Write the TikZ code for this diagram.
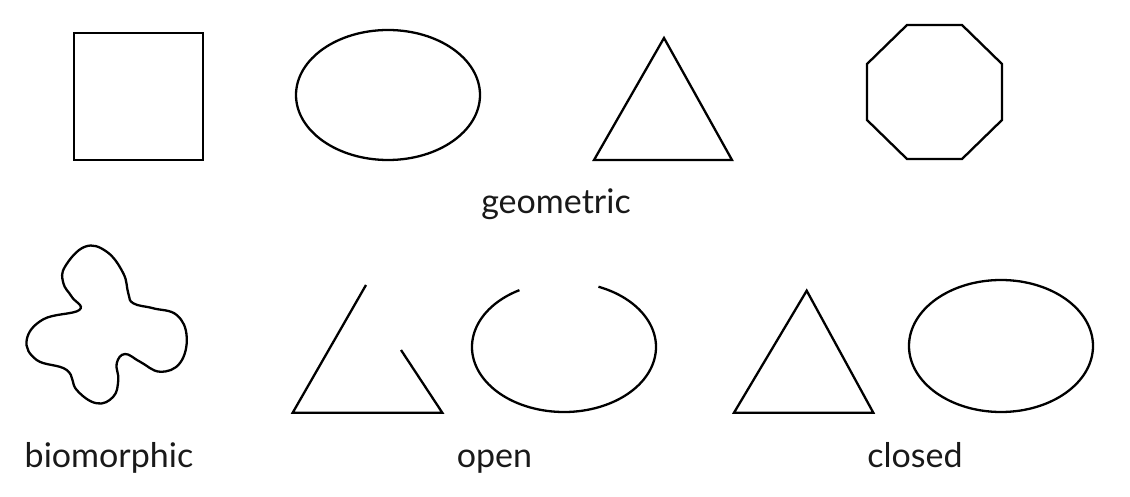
\documentclass[tikz,border=0pt]{standalone}
\usepackage{fontspec}
\setsansfont{Lato}
\usetikzlibrary{positioning}

\begin{document}
\begin{tikzpicture}[
    x=1pt, y=1pt,
    % Outline of every figure
    outline/.style={
        draw, line width=2.3pt, line join=miter,
    },
    % Text under the figures
    caption/.style={
        font=\sffamily\fontsize{34}{40}\selectfont,
        anchor=base, inner sep=0pt, text=black!90,
    },
  ]
  \useasboundingbox (0,0) rectangle (1130,496);

  % --- Geometric row ---
  \draw[outline] (74,336) rectangle (203,463);
  \draw[outline] (388,401) ellipse [x radius=92, y radius=65];
  \draw[outline] (594,336) -- (664,458) -- (732,336) -- cycle;
  \draw[outline] (907,471) -- (962,471) -- (1002,432) -- (1002,376)
                 -- (962,337) -- (907,337) -- (867,376) -- (867,432) -- cycle;

  % --- Biomorphic blob ---
  \draw[outline] plot[smooth cycle, tension=0.7] coordinates {
      (85,249.3) (65,229.3) (63.3,213) (71.7,199.3) (79.3,186)
      (43.3,176.7) (26.7,156) (36.7,136) (66.7,126) (76.7,106)
      (96.7,92.7) (113.3,99.3) (118.3,116) (116.7,132.7) (125,142)
      (140,134.3) (160,124.3) (180,133) (186.7,159.3) (176.7,181)
      (153.3,187.7) (133.3,192.7) (128.3,202.7) (123.3,222.7) (106.7,244.3)
  };

  % --- Open figures ---
  \draw[outline] (366,211) -- (292.7,83.3) -- (442.3,83.3) -- (401,146);
  \draw[outline] (564,149) ++(119:92 and 65)
                 arc [start angle=119, end angle=428, x radius=92, y radius=65];

  % --- Closed figures ---
  \draw[outline] (734,83.3) -- (806.7,205.3) -- (873.3,83.3) -- cycle;
  \draw[outline] (1001,150) ellipse [x radius=92, y radius=66];

  % --- Labels ---
  \foreach \txt/\x/\y/\nm in {geometric/556/282/geo, biomorphic/109/28.5/bio,
                              open/494.5/28.5/opn, closed/915/28.5/cls} {
      \node[caption] (\nm) at (\x,\y) {\txt};
  }
\end{tikzpicture}
\end{document}
